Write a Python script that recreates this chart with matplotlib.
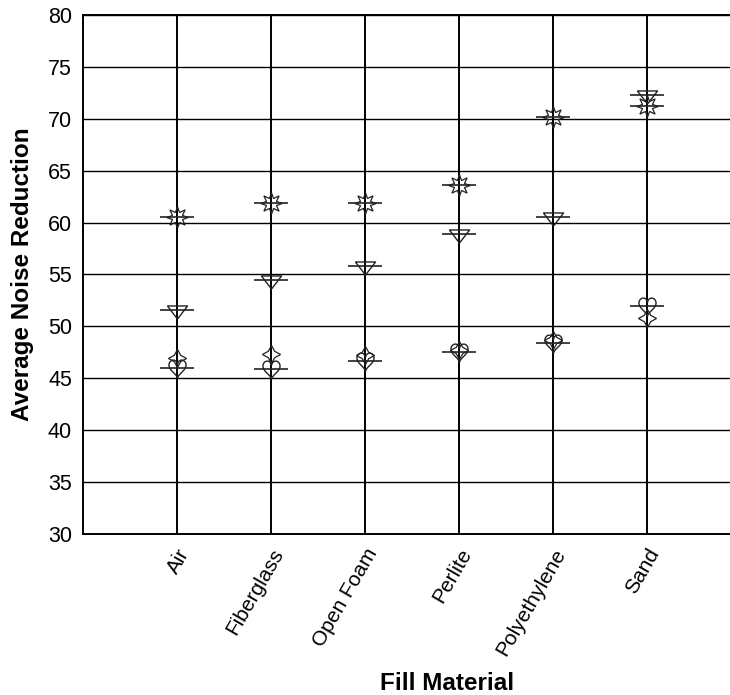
import numpy as np
import matplotlib
matplotlib.use("Agg")
import matplotlib.pyplot as plt
from matplotlib.path import Path

plt.rcParams['font.family'] = ['Liberation Sans', 'DejaVu Sans']

categories = ["Air", "Fiberglass", "Open Foam", "Perlite", "Polyethylene", "Sand"]
burst = [60.5, 61.9, 61.9, 63.6, 70.2, 71.2]
triangle = [51.6, 54.5, 55.8, 58.9, 60.5, 72.3]
heart = [46.0, 45.9, 46.7, 47.5, 48.4, 52.0]
star4 = [47.0, 47.3, 47.2, 47.7, 48.7, 50.8]
yticks = [30, 35, 40, 45, 50, 55, 60, 65, 70, 75, 80]

# custom marker shapes
t = np.linspace(0, 2 * np.pi, 60)
hx = 16 * np.sin(t) ** 3 * 0.85
hy = 13 * np.cos(t) - 5 * np.cos(2 * t) - 2 * np.cos(3 * t) - np.cos(4 * t)
heart_path = Path(np.column_stack([hx, hy + 1.5]) / 16.0)

tri_path = Path([(-1, 0.45), (1, 0.45), (0, -0.85), (-1, 0.45)])

fig = plt.figure(figsize=(7.30, 6.95), dpi=100)
ax = fig.add_axes([83 / 730, 1 - 534 / 695, 1 - 83 / 730, (534 - 15) / 695])

x = np.arange(len(categories))
for xi in x:
    ax.axvline(xi, color='black', lw=1.4, zorder=1)
for yv in yticks:
    ax.axhline(yv, color='black', lw=1.0, zorder=1)

ax.plot(x, burst, ls='none', marker=(8, 1, 0), ms=15.5, mfc='none', mec='#222222', mew=0.9, zorder=3)
ax.plot(x, triangle, ls='none', marker=tri_path, ms=14.5, mfc='none', mec='#222222', mew=1.0, zorder=3)
ax.plot(x, heart, ls='none', marker=heart_path, ms=14, mfc='none', mec='#222222', mew=1.0, zorder=3)
ax.plot(x, star4, ls='none', marker=(4, 1, 0), ms=13, mfc='none', mec='#222222', mew=0.9, zorder=3)
for series in (burst, triangle, heart):
    ax.plot(x, series, ls='none', marker='_', ms=24, mec='#222222', mew=1.2, zorder=4)

ax.set_xlim(-1, (730 - 83) / 94 - 1)
ax.set_ylim(30, 80)
ax.set_yticks(yticks)
ax.set_xticks(x)
ax.set_xticklabels(categories, rotation=60, ha='right', rotation_mode='anchor', fontsize=15)
ax.tick_params(axis='y', labelsize=15.5, length=0, pad=8)
ax.tick_params(axis='x', length=0, pad=8)
ax.spines['right'].set_visible(False)
for s in ('left', 'bottom', 'top'):
    ax.spines[s].set_linewidth(1.4)

ax.set_ylabel("Average Noise Reduction", fontsize=17.5, fontweight='bold', labelpad=10)
ax.set_xlabel("Fill Material", fontsize=17.5, fontweight='bold')
ax.xaxis.set_label_coords((447 - 83) / (730 - 83), -(690 - 534) / (534 - 15))
ax.xaxis.label.set_va('baseline')

fig.savefig("out.png", dpi=100)
